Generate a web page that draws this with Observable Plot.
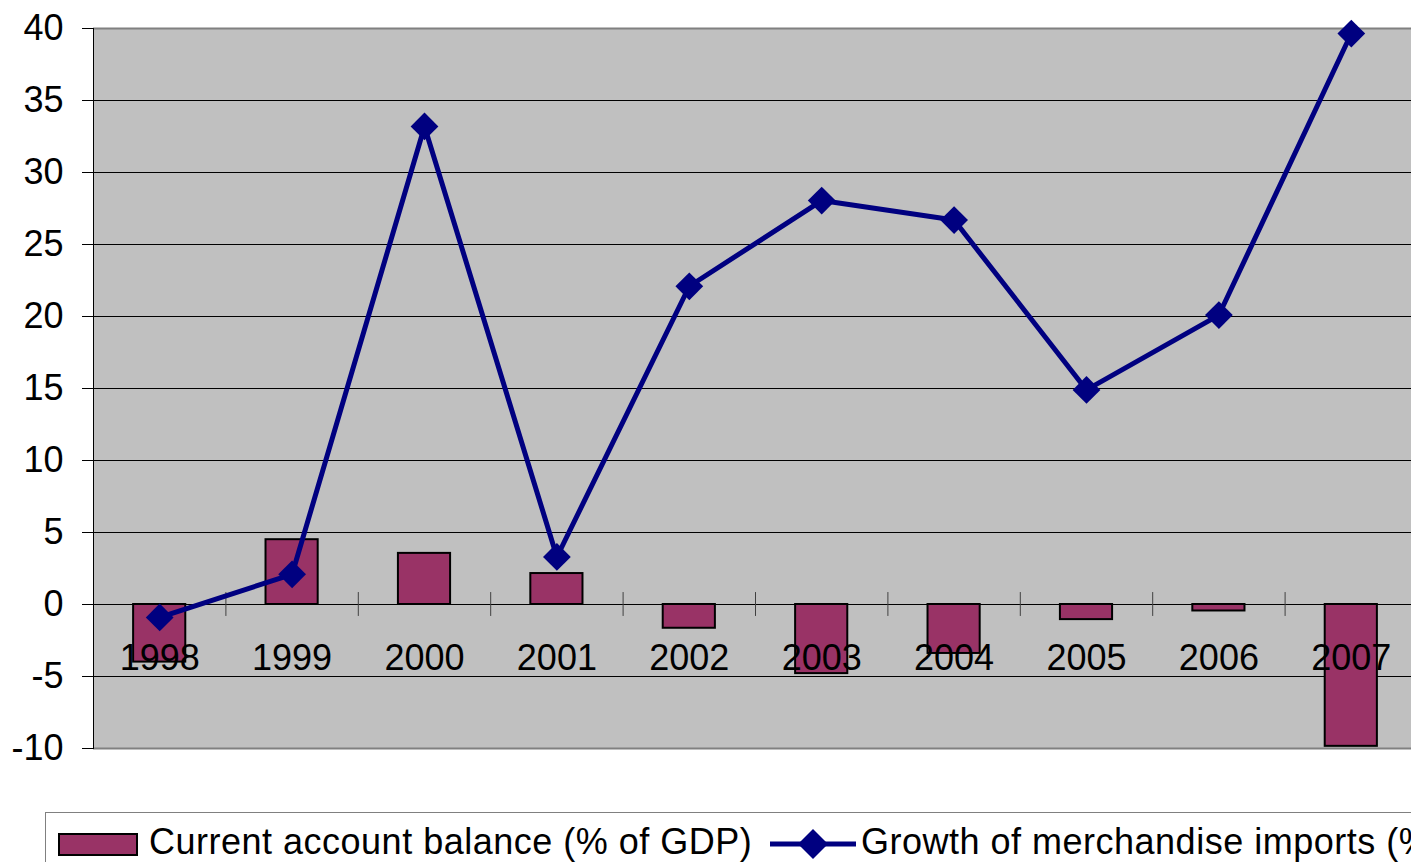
<!DOCTYPE html>
<html>
<head>
<meta charset="utf-8">
<script src="https://cdn.jsdelivr.net/npm/d3@7"></script>
<script src="https://cdn.jsdelivr.net/npm/@observablehq/plot@0.6"></script>
<style>
  html, body { margin: 0; padding: 0; background: #fff; overflow: hidden; width: 1411px; height: 862px; }
  body { font-family: "Liberation Sans", Arial, sans-serif; position: relative; }
  #chart svg { display: block; }
  #legend { position: absolute; left: 45px; top: 812px; width: 1400px; height: 80px; border: 1px solid #808080; background: #fff; }
  #legend .sw { position: absolute; left: 12px; top: 20px; width: 76px; height: 19px; background: #993366; border: 2px solid #000; }
  #legend .t { position: absolute; font-size: 36px; line-height: 36px; top: 11px; color: #000; white-space: nowrap; letter-spacing: 0.5px; }
  #legend svg { position: absolute; left: 722px; top: 14px; }
</style>
</head>
<body>
<div id="chart"></div>
<div id="legend">
  <div class="sw"></div>
  <span class="t" style="left:103px">Current account balance (% of GDP)</span>
  <svg width="90" height="34"><line x1="2" y1="17" x2="88" y2="17" stroke="#000080" stroke-width="5"/><path d="M45,2 L60,17 L45,32 L30,17 Z" fill="#000080"/></svg>
  <span class="t" style="left:815px">Growth of merchandise imports (%)</span>
</div>
<script>
const years = [1998, 1999, 2000, 2001, 2002, 2003, 2004, 2005, 2006, 2007];
const currentAccount = [-4.0, 4.5, 3.55, 2.15, -1.65, -4.8, -3.4, -1.05, -0.45, -9.85];
const importGrowth = [-0.9, 2.1, 33.2, 3.3, 22.1, 28.05, 26.7, 14.9, 20.1, 39.65];
const yTicks = [-10, -5, 0, 5, 10, 15, 20, 25, 30, 35, 40];

const bars = years.map((yr, i) => ({year: yr, value: currentAccount[i]}));
const pts = years.map((yr, i) => ({year: yr, value: importGrowth[i]}));
const boundaries = years.slice(1).map(y => y - 0.5);
const halfBar = 0.197;

const chart = Plot.plot({
  width: 1411,
  height: 780,
  marginLeft: 93,
  marginRight: 0,
  marginTop: 28,
  marginBottom: 32,
  style: {fontFamily: "'Liberation Sans', Arial, sans-serif", background: "#fff", color: "#000"},
  x: {type: "linear", domain: [1997.5, 2007.5], range: [93, 1417], axis: null},
  y: {domain: [-10, 40], axis: null},
  marks: [
    Plot.frame({fill: "#c0c0c0", stroke: null}),
    Plot.ruleY(yTicks.filter(d => d > -10 && d < 40), {stroke: "#000", strokeWidth: 1}),
    Plot.ruleY([40, -10], {stroke: "#808080", strokeWidth: 2}),
    Plot.rectY(bars, {x1: d => d.year - halfBar, x2: d => d.year + halfBar, y: "value", fill: "#993366", stroke: "#000", strokeWidth: 2}),
    Plot.ruleX(boundaries, {x: d => d, y1: -0.83, y2: 0.83, stroke: "#404040", strokeWidth: 1}),
    Plot.text(years, {x: d => d, y: 0, dy: 54, text: d => String(d), fontSize: 36, fill: "#000"}),
    Plot.axisY({ticks: yTicks, tickSize: 11, tickPadding: 19, fontSize: 36, label: null, tickFormat: d => String(d)}),
    Plot.frame({anchor: "left", stroke: "#000", strokeWidth: 1}),
    Plot.line(pts, {x: "year", y: "value", stroke: "#000080", strokeWidth: 5}),
    Plot.dot(pts, {x: "year", y: "value", symbol: "diamond2", r: 12.5, fill: "#000080", stroke: null})
  ]
});
document.getElementById("chart").appendChild(chart);
</script>
</body>
</html>
